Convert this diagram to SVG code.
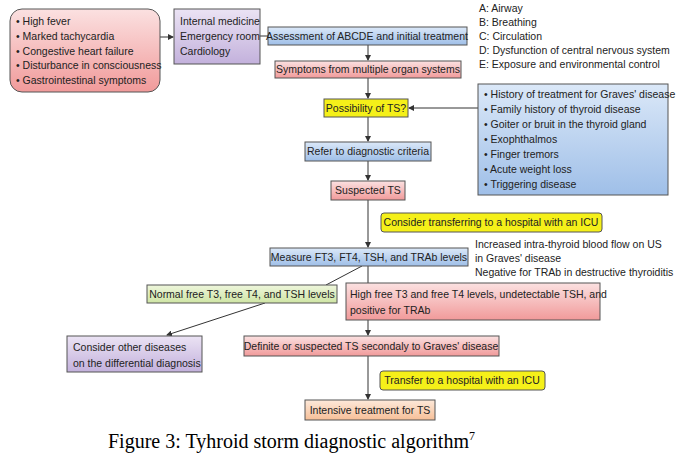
<svg xmlns="http://www.w3.org/2000/svg" width="681" height="468" viewBox="0 0 681 468">
<defs>
<marker id="ah" markerWidth="6" markerHeight="6" refX="5" refY="3" orient="auto" markerUnits="userSpaceOnUse"><path d="M0,0 L6,3 L0,6 z" fill="#333"/></marker>
<linearGradient id="red" x1="0" y1="0" x2="0" y2="1"><stop offset="0" stop-color="#fbe1e1"/><stop offset="1" stop-color="#f19a9a"/></linearGradient>
<linearGradient id="blue" x1="0" y1="0" x2="0" y2="1"><stop offset="0" stop-color="#dbe8f8"/><stop offset="1" stop-color="#9fbfe8"/></linearGradient>
<linearGradient id="purple" x1="0" y1="0" x2="0" y2="1"><stop offset="0" stop-color="#ebe3f4"/><stop offset="1" stop-color="#c3b1dc"/></linearGradient>
<linearGradient id="green" x1="0" y1="0" x2="0" y2="1"><stop offset="0" stop-color="#eef6dc"/><stop offset="1" stop-color="#cfe5a5"/></linearGradient>
<linearGradient id="orange" x1="0" y1="0" x2="0" y2="1"><stop offset="0" stop-color="#fde9da"/><stop offset="1" stop-color="#f6bf98"/></linearGradient>
</defs>
<style>
text{font-family:"Liberation Sans",Arial,sans-serif;font-size:10.5px;fill:#222}
rect{stroke:#555;stroke-width:1}
.r{fill:url(#red)}.b{fill:url(#blue)}.p{fill:url(#purple)}.g{fill:url(#green)}.o{fill:url(#orange)}.y{fill:#f5f019}
.c{stroke:#333;stroke-width:1;fill:none}
.m{text-anchor:middle}
</style>
<rect width="681" height="468" fill="#fff" style="stroke:none"/>
<g id="connectors">
<line class="c" x1="160" y1="37" x2="173" y2="37" marker-end="url(#ah)"/>
<line class="c" x1="260" y1="36" x2="268" y2="36"/>
<line class="c" x1="368" y1="45" x2="368" y2="60" marker-end="url(#ah)"/>
<line class="c" x1="368" y1="78" x2="368" y2="98" marker-end="url(#ah)"/>
<line class="c" x1="368" y1="117" x2="368" y2="141" marker-end="url(#ah)"/>
<line class="c" x1="368" y1="161" x2="368" y2="180" marker-end="url(#ah)"/>
<line class="c" x1="478" y1="108" x2="409" y2="108" marker-end="url(#ah)"/>
<line class="c" x1="368" y1="200" x2="368" y2="247" marker-end="url(#ah)"/>
<line class="c" x1="368" y1="266" x2="368" y2="283"/>
<line class="c" x1="362" y1="266" x2="326" y2="285"/>
<line class="c" x1="265" y1="303" x2="167" y2="335" marker-end="url(#ah)"/>
<line class="c" x1="368" y1="320" x2="368" y2="335" marker-end="url(#ah)"/>
<line class="c" x1="368" y1="356" x2="368" y2="399" marker-end="url(#ah)"/>
</g>
<g id="symptoms"><rect class="r" x="10" y="9" width="150" height="83" rx="12"/>
<text x="16" y="25">• High fever</text><text x="16" y="40">• Marked tachycardia</text><text x="16" y="55">• Congestive heart failure</text><text x="16" y="69">• Disturbance in consciousness</text><text x="16" y="84">• Gastrointestinal symptoms</text></g>
<g id="depts"><rect class="p" x="174" y="9" width="86" height="55"/>
<text x="180" y="25">Internal medicine</text><text x="180" y="40">Emergency room</text><text x="180" y="55">Cardiology</text></g>
<g id="assess"><rect class="b" x="268" y="27" width="199" height="18"/><text class="m" x="367" y="40">Assessment of ABCDE and initial treatment</text></g>
<g id="abcde"><text x="479" y="12">A: Airway</text><text x="479" y="26">B: Breathing</text><text x="479" y="40">C: Circulation</text><text x="479" y="54">D: Dysfunction of central nervous system</text><text x="479" y="68">E: Exposure and environmental control</text></g>
<g id="multi"><rect class="r" x="275" y="61" width="186" height="17"/><text class="m" x="368" y="73">Symptoms from multiple organ systems</text></g>
<g id="poss"><rect class="y" x="324" y="99" width="84" height="18"/><text class="m" x="366" y="112">Possibility of TS?</text></g>
<g id="history"><rect class="b" x="478" y="84" width="190" height="111"/>
<text x="484" y="98">• History of treatment for Graves' disease</text><text x="484" y="113">• Family history of thyroid disease</text><text x="484" y="128">• Goiter or bruit in the thyroid gland</text><text x="484" y="143">• Exophthalmos</text><text x="484" y="158">• Finger tremors</text><text x="484" y="173">• Acute weight loss</text><text x="484" y="188">• Triggering disease</text></g>
<g id="refer"><rect class="b" x="305" y="142" width="126" height="19"/><text class="m" x="368" y="155">Refer to diagnostic criteria</text></g>
<g id="suspected"><rect class="r" x="331" y="181" width="74" height="19"/><text class="m" x="368" y="194">Suspected TS</text></g>
<g id="consider"><rect class="y" x="381" y="213" width="221" height="19" rx="3"/><text class="m" x="491" y="226">Consider transferring to a hospital with an ICU</text></g>
<g id="measure"><rect class="b" x="270" y="248" width="198" height="18"/><text class="m" x="369" y="261">Measure FT3, FT4, TSH, and TRAb levels</text></g>
<g id="note"><text x="475" y="248">Increased intra-thyroid blood flow on US</text><text x="475" y="262">in Graves' disease</text><text x="475" y="276">Negative for TRAb in destructive thyroiditis</text></g>
<g id="normal"><rect class="g" x="147" y="285" width="190" height="18"/><text class="m" x="242" y="298">Normal free T3, free T4, and TSH levels</text></g>
<g id="high"><rect class="r" x="346" y="283" width="254" height="37"/><text x="350" y="298">High free T3 and free T4 levels, undetectable TSH, and</text><text x="350" y="314">positive for TRAb</text></g>
<g id="other"><rect class="p" x="67" y="336" width="135" height="36"/><text x="73" y="351">Consider other diseases</text><text x="73" y="367">on the differential diagnosis</text></g>
<g id="definite"><rect class="r" x="244" y="336" width="255" height="20"/><text class="m" x="371" y="350">Definite or suspected TS secondaly to Graves' disease</text></g>
<g id="transfer"><rect class="y" x="380" y="371" width="165" height="19" rx="3"/><text class="m" x="462" y="384">Transfer to a hospital with an ICU</text></g>
<g id="intensive"><rect class="o" x="305" y="400" width="130" height="20"/><text class="m" x="370" y="414">Intensive treatment for TS</text></g>
<text x="108" y="448" style="font-family:'Liberation Serif','Times New Roman',serif;font-size:20px;fill:#000">Figure 3: Tyhroid storm diagnostic algorithm<tspan dy="-8" style="font-size:12px">7</tspan></text>
</svg>
